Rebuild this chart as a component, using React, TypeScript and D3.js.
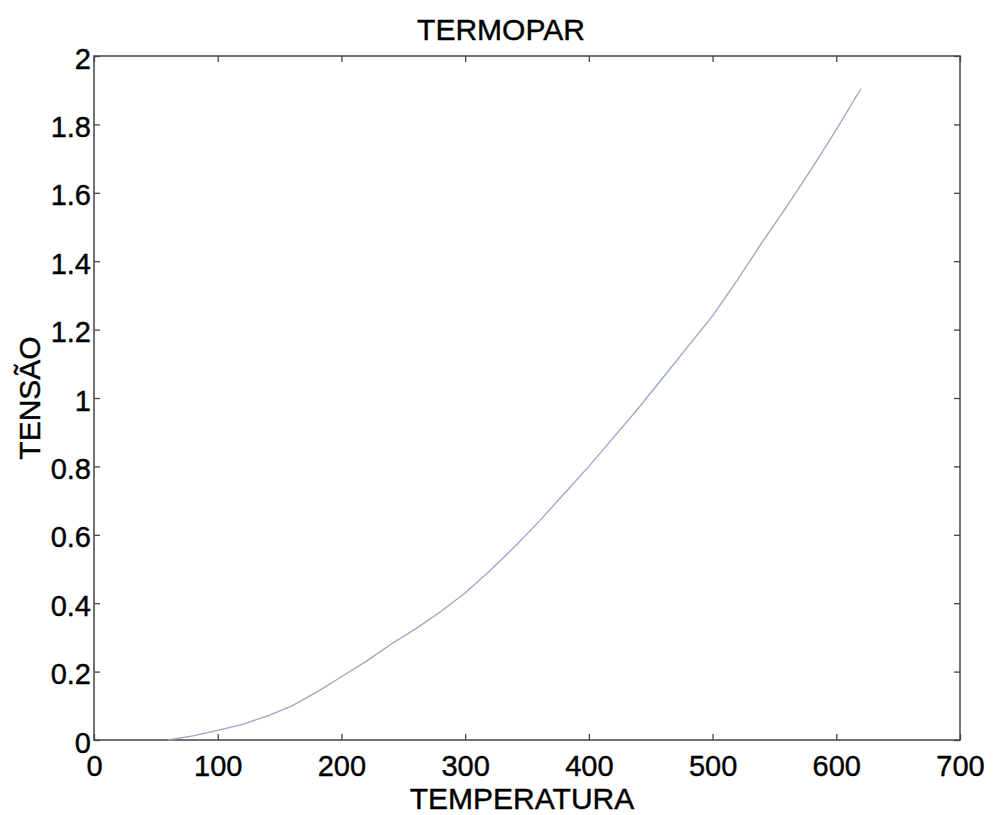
import React, { useEffect, useRef } from 'react';
import * as d3 from 'd3';

// values
const temperatura = [60, 80, 100, 120, 140, 160, 180, 200, 220, 240, 260, 280, 300, 320, 340, 360, 380, 400, 420, 440, 460, 480, 500, 520, 540, 560, 580, 600, 620];
const tensao = [0, 0.012, 0.028, 0.046, 0.07, 0.1, 0.14, 0.185, 0.23, 0.28, 0.325, 0.375, 0.43, 0.495, 0.565, 0.64, 0.72, 0.8, 0.885, 0.97, 1.06, 1.15, 1.24, 1.345, 1.455, 1.56, 1.67, 1.785, 1.905];
const xTicks = [0, 100, 200, 300, 400, 500, 600, 700];
const yTicks = [0, 0.2, 0.4, 0.6, 0.8, 1, 1.2, 1.4, 1.6, 1.8, 2];

const FONT = '"Liberation Sans", Arial, Helvetica, sans-serif';

const App = () => {
  const ref = useRef<SVGSVGElement>(null);

  useEffect(() => {
    const width = 996;
    const height = 815;
    const margin = { top: 56, right: 36, bottom: 75, left: 94 };

    const svg = d3.select(ref.current);
    svg.selectAll('*').remove();

    const x = d3.scaleLinear().domain([0, 700]).range([margin.left, width - margin.right]);
    const y = d3.scaleLinear().domain([0, 2]).range([height - margin.bottom, margin.top]);

    svg.append('rect').attr('width', width).attr('height', height).attr('fill', '#fff');

    const fmt = (d: any) => String(+(+d).toFixed(1));

    // bottom axis with labels
    const gx = svg.append('g')
      .attr('transform', `translate(0, ${y(0)})`)
      .call(d3.axisBottom(x).tickValues(xTicks).tickSize(-6).tickPadding(15).tickFormat(fmt));
    // left axis with labels
    const gy = svg.append('g')
      .attr('transform', `translate(${x(0)}, 0)`)
      .call(d3.axisLeft(y).tickValues(yTicks).tickSize(-6).tickPadding(3).tickFormat(fmt));
    // top / right ticks only
    const gt = svg.append('g')
      .attr('transform', `translate(0, ${y(2)})`)
      .call(d3.axisTop(x).tickValues(xTicks).tickSize(-6).tickFormat(() => ''));
    const gr = svg.append('g')
      .attr('transform', `translate(${x(700)}, 0)`)
      .call(d3.axisRight(y).tickValues(yTicks).tickSize(-6).tickFormat(() => ''));

    [gx, gy, gt, gr].forEach(g => {
      g.select('.domain').remove();
      g.selectAll('line').attr('stroke', '#444').attr('stroke-width', 1.3);
      g.selectAll('text')
        .attr('fill', '#000')
        .attr('stroke', '#000')
        .attr('stroke-width', 0.4)
        .style('font-family', FONT)
        .style('font-size', '29px');
    });
    gy.selectAll('text').attr('dy', '0.42em');

    // axes box
    svg.append('rect')
      .attr('x', x(0))
      .attr('y', y(2))
      .attr('width', x(700) - x(0))
      .attr('height', y(0) - y(2))
      .attr('fill', 'none')
      .attr('stroke', '#444')
      .attr('stroke-width', 1.5);

    const line = d3.line<number>()
      .x((d, i) => x(temperatura[i]))
      .y(d => y(d));

    svg.append('path')
      .datum(tensao)
      .attr('fill', 'none')
      .attr('stroke', '#9ea4c4')
      .attr('stroke-width', 1.3)
      .attr('d', line);

    const label = (tx: string, t: string) =>
      svg.append('text')
        .attr('transform', t)
        .attr('text-anchor', 'middle')
        .attr('stroke', '#000')
        .attr('stroke-width', 0.4)
        .style('font-family', FONT)
        .style('font-size', '30px')
        .text(tx);

    label('TERMOPAR', 'translate(501, 40)');
    label('TEMPERATURA', 'translate(522, 809)');
    label('TENSÃO', `translate(40, ${(y(0) + y(2)) / 2}) rotate(-90)`);
  }, []);

  return (
    <svg
      ref={ref}
      width={996}
      height={815}
      style={{ position: 'absolute', left: 0, top: 0, display: 'block' }}
    />
  );
};

export default App;
